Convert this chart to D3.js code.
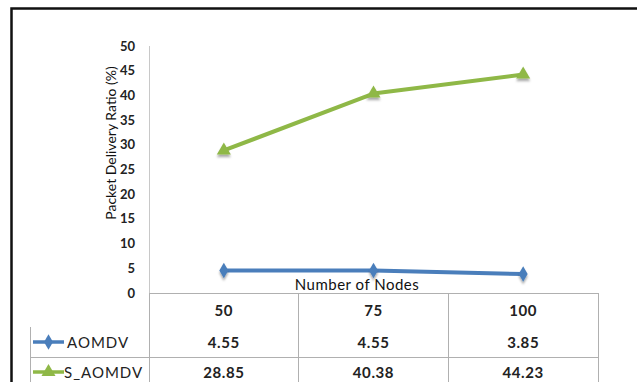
<!DOCTYPE html>
<html><head><meta charset="utf-8">
<script src="https://cdn.jsdelivr.net/npm/d3@7"></script>
<style>body{margin:0;background:#fff}svg{display:block}</style>
</head><body>
<script>
const categories = ["50","75","100"];
const aomdv = [4.55, 4.55, 3.85];
const saomdv = [28.85, 40.38, 44.23];
const seriesNames = ["AOMDV","S_AOMDV"];
const yTicks = [0,5,10,15,20,25,30,35,40,45,50];
const fmt = v => v.toFixed(2);

const W = 637, H = 382;
const svg = d3.select("body").append("svg").attr("width", W).attr("height", H);
const font = "Lato, 'Open Sans', sans-serif";

const defs = svg.append("defs");
const f = defs.append("filter").attr("id","sh").attr("x","-50%").attr("y","-50%").attr("width","200%").attr("height","200%");
f.append("feDropShadow").attr("dx",0).attr("dy",2.5).attr("stdDeviation",1.2).attr("flood-color","#000").attr("flood-opacity",0.35);

// outer frame
svg.append("path").attr("d", `M11.5,${H} L11.5,8.5 L${W},8.5`).attr("fill","none").attr("stroke","#111").attr("stroke-width",2.5);

const x = d3.scaleBand().domain(categories).range([149, 598]);
const y = d3.scaleLinear().domain([0, 50]).range([293, 46]);

// axes
svg.append("line").attr("x1",149.5).attr("x2",149.5).attr("y1",y(50)).attr("y2",y(0)).attr("stroke","#c8c8c8").attr("stroke-width",1);
svg.append("g").selectAll("text").data(yTicks).join("text")
  .attr("x",135).attr("y",d=>y(d)+4.5).attr("text-anchor","end")
  .attr("font-family",font).attr("font-size",13).attr("font-weight","bold").attr("fill","#222").text(d=>d);

// y title
svg.append("text").attr("transform",`translate(115.5,143) rotate(-90)`).attr("text-anchor","middle")
  .attr("font-family",font).attr("font-size",14).attr("fill","#111").text("Packet Delivery Ratio (%)");

// table grid
const gridC = "#b0b0b0";
const g = svg.append("g").attr("stroke",gridC).attr("stroke-width",1).attr("fill","none");
g.append("line").attr("x1",149).attr("x2",598).attr("y1",293.5).attr("y2",293.5);
[149,298,448,598].forEach(xx=>{
  g.append("line").attr("x1",xx+0.5).attr("x2",xx+0.5).attr("y1",293).attr("y2",H);
});
g.append("line").attr("x1",30).attr("x2",598).attr("y1",357.5).attr("y2",357.5);
g.append("line").attr("x1",30.5).attr("x2",30.5).attr("y1",327).attr("y2",H);

// x title
svg.append("text").attr("x",357).attr("y",290).attr("text-anchor","middle")
  .attr("font-family",font).attr("font-size",15).attr("letter-spacing",0.5).attr("fill","#111").text("Number of Nodes");

// table text
const cx = d => x(d) + x.bandwidth()/2;
const tt = svg.append("g").attr("font-family",font).attr("font-size",15).attr("letter-spacing",0.6).attr("font-weight","bold").attr("fill","#222").attr("text-anchor","middle");
tt.selectAll(".h").data(categories).join("text").attr("x",cx).attr("y",316).text(d=>d);
tt.selectAll(".a").data(aomdv).join("text").attr("x",(d,i)=>cx(categories[i])).attr("y",347.5).text(fmt);
tt.selectAll(".s").data(saomdv).join("text").attr("x",(d,i)=>cx(categories[i])).attr("y",377.5).text(fmt);

const colors = ["#4a7ebb","#8fb847"];
const seriesData = [aomdv, saomdv];
const diamond = d3.symbol().type(d3.symbolDiamond).size(70);
const tri = d3.symbol().type(d3.symbolTriangle).size(85);
const symbols = [diamond, tri];

// lines
const line = d3.line().x((d,i)=>cx(categories[i])).y(d=>y(d));
seriesData.forEach((s,k)=>{
  svg.append("path").datum(s).attr("d",line).attr("fill","none").attr("stroke",colors[k]).attr("stroke-width",4).attr("stroke-linejoin","round");
  svg.append("g").selectAll("path").data(s).join("path")
    .attr("transform",(d,i)=>`translate(${cx(categories[i])},${y(d)})`)
    .attr("d",symbols[k]).attr("fill",colors[k]).attr("filter","url(#sh)");
});

// legend keys in table
const legY = [342, 372];
seriesNames.forEach((n,k)=>{
  svg.append("line").attr("x1",33).attr("x2",64).attr("y1",legY[k]).attr("y2",legY[k]).attr("stroke",colors[k]).attr("stroke-width",3.5);
  svg.append("path").attr("transform",`translate(48.5,${legY[k]})`).attr("d",symbols[k]).attr("fill",colors[k]);
  svg.append("text").attr("x",k===0?67:64).attr("y",legY[k]+5.5).attr("font-family",font).attr("font-size",15).attr("letter-spacing",1).attr("fill","#222").text(n);
});
</script>
</body></html>
